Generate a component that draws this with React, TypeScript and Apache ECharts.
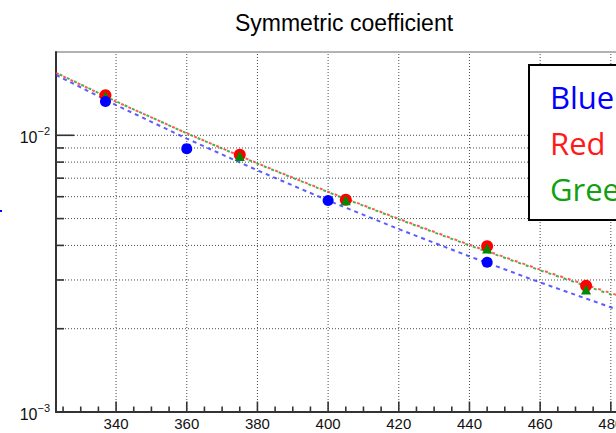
import React, { useEffect, useRef } from "react";
import * as echarts from "echarts";

const titleText = "Symmetric coefficient";

// measured points
const blueX = [337, 360, 400, 445];
const blueY = [0.01324, 0.00895, 0.00581, 0.00348];
const redX = [337, 375, 405, 445, 473];
const redY = [0.01396, 0.00851, 0.00585, 0.00397, 0.00286];
const greenX = [337, 375, 405, 445, 473];
const greenY = [0.0138, 0.00841, 0.00583, 0.0039, 0.00277];

// fit curves
const fitX = [323, 340, 360, 380, 400, 420, 440, 460, 480, 500];
const blueFit = [0.01652, 0.01286, 0.00973, 0.00747, 0.00581, 0.00458, 0.00365, 0.00294, 0.00239, 0.00196];
const redFit = [0.0168, 0.01324, 0.01017, 0.00792, 0.00625, 0.00499, 0.00402, 0.00327, 0.00269, 0.00223];
const greenFit = [0.01685, 0.01326, 0.01016, 0.0079, 0.00623, 0.00497, 0.004, 0.00325, 0.00266, 0.0022];

// axes
const xMin = 323;
const xMax = 500;
const yMin = 0.001;
const yMax = 0.02;
const xTickLabels = [340, 360, 380, 400, 420, 440, 460, 480, 500];
const yMajorValues = [0.001, 0.01];
const yMinorValues = [0.002, 0.003, 0.004, 0.005, 0.006, 0.007, 0.008, 0.009];
const xMinorValues: number[] = [];
for (let v = 325; v < xMax; v += 5) {
  if (!xTickLabels.includes(v)) xMinorValues.push(v);
}

const legendNames = ["Blue", "Red", "Green"];
const legendColors = ["#0000ff", "#ff1a1a", "#12a012"];

const helv = '"Liberation Sans", Arial, sans-serif';

const gridColor = "#4a4a4a";
const tickColor = "#333";

function vLines(values: number[]) {
  return {
    type: "custom",
    silent: true,
    clip: false,
    z: 1,
    data: values.map((v) => [v, yMin]),
    renderItem: (_p: any, api: any) => {
      const v = api.value(0);
      const a = api.coord([v, yMin]);
      const b = api.coord([v, yMax]);
      return {
        type: "line",
        shape: { x1: a[0], y1: a[1], x2: b[0], y2: b[1] },
        style: { stroke: gridColor, lineWidth: 1, lineDash: [1, 2] },
      };
    },
  };
}

function hLines(values: number[]) {
  return {
    type: "custom",
    silent: true,
    clip: false,
    z: 1,
    data: values.map((v) => [xMin, v]),
    renderItem: (_p: any, api: any) => {
      const v = api.value(1);
      const a = api.coord([xMin, v]);
      const b = api.coord([xMax, v]);
      return {
        type: "line",
        shape: { x1: a[0], y1: a[1], x2: b[0], y2: b[1] },
        style: { stroke: gridColor, lineWidth: 1, lineDash: [1, 2] },
      };
    },
  };
}

function xTicks(values: number[], len: number) {
  return {
    type: "custom",
    silent: true,
    clip: false,
    z: 3,
    data: values.map((v) => [v, yMin]),
    renderItem: (_p: any, api: any) => {
      const a = api.coord([api.value(0), yMin]);
      return {
        type: "line",
        shape: { x1: a[0], y1: a[1], x2: a[0], y2: a[1] - len },
        style: { stroke: tickColor, lineWidth: 1.6 },
      };
    },
  };
}

function yTicks(values: number[], len: number) {
  return {
    type: "custom",
    silent: true,
    clip: false,
    z: 3,
    data: values.map((v) => [xMin, v]),
    renderItem: (_p: any, api: any) => {
      const a = api.coord([xMin, api.value(1)]);
      return {
        type: "line",
        shape: { x1: a[0], y1: a[1], x2: a[0] + len, y2: a[1] },
        style: { stroke: tickColor, lineWidth: 1.6 },
      };
    },
  };
}

function fitSeries(ys: number[], color: string, dash: number[], offset: number) {
  return {
    type: "line",
    silent: true,
    showSymbol: false,
    symbol: "none",
    z: 4,
    data: fitX.map((x, i) => [x, ys[i]]),
    lineStyle: { color, width: 2, type: dash, dashOffset: offset },
  };
}

function pointSeries(xs: number[], ys: number[], color: string, symbol: string, size: number) {
  return {
    type: "scatter",
    silent: true,
    z: 5,
    symbol,
    symbolSize: size,
    data: xs.map((x, i) => [x, ys[i]]),
    itemStyle: { color, opacity: 1 },
  };
}

export default function App() {
  const ref = useRef<HTMLDivElement>(null);
  useEffect(() => {
    document.body.style.margin = "0";
    const chart = echarts.init(ref.current!, null, { renderer: "svg" });
    const option: any = {
      animation: false,
      backgroundColor: "#fff",
      grid: {
        left: 56,
        top: 52,
        right: 18.5,
        bottom: 21,
        show: true,
        borderColor: "#666",
        borderWidth: 1,
        backgroundColor: "transparent",
      },
      xAxis: {
        type: "value",
        min: xMin,
        max: xMax,
        splitNumber: 9,
        axisLine: { show: true, lineStyle: { color: "#333", width: 2 } },
        axisTick: { show: false },
        splitLine: { show: false },
        axisLabel: {
          customValues: xTickLabels,
          formatter: (v: number) => (xTickLabels.includes(v) ? String(v) : ""),
          fontSize: 15,
          fontFamily: helv,
          color: "#111",
          margin: 4,
        },
      },
      yAxis: {
        type: "log",
        logBase: 10,
        min: yMin,
        max: yMax,
        axisLine: { show: true, lineStyle: { color: "#333", width: 2 } },
        axisTick: { show: false },
        splitLine: { show: false },
        minorTick: { show: false },
        axisLabel: {
          margin: 6,
          fontSize: 15,
          fontFamily: helv,
          color: "#111",
          formatter: (v: number) => {
            const l = Math.log10(v);
            const e = Math.round(l);
            if (Math.abs(l - e) > 1e-6) return "";
            return `{b|10}{s|\u2212${-e}}`;
          },
          rich: {
            b: { fontSize: 16, fontFamily: helv, color: "#111", lineHeight: 20, padding: [4, 0, 0, 0] },
            s: { fontSize: 11, fontFamily: helv, color: "#111", lineHeight: 11, verticalAlign: "top" },
          },
        },
      },
      graphic: [
        {
          type: "text",
          x: 344,
          y: 23,
          style: {
            text: titleText,
            fontSize: 23,
            fontFamily: helv,
            fill: "#000",
            align: "center",
            verticalAlign: "middle",
          },
        },
        {
          type: "rect",
          z: 100,
          shape: { x: 529, y: 65, width: 200, height: 155 },
          style: { fill: "#fff", stroke: "#000", lineWidth: 2 },
        },
        ...legendNames.map((name, i) => ({
          type: "text",
          z: 101,
          x: 550,
          y: 97 + i * 46,
          style: {
            text: name,
            fontSize: 31,
            fontFamily: '"Open Sans", sans-serif',
            fill: legendColors[i],
            align: "left",
            verticalAlign: "middle",
          },
        })),
        {
          type: "rect",
          shape: { x: 0, y: 210, width: 2, height: 2 },
          style: { fill: "#0000ff" },
        },
      ],
      series: [
        vLines(xTickLabels),
        hLines([...yMinorValues, 0.01]),
        xTicks(xTickLabels, 10.5),
        xTicks(xMinorValues, 5.5),
        yTicks(yMajorValues, 18),
        yTicks(yMinorValues, 8),
        fitSeries(blueFit, "rgba(50,50,255,0.8)", [4, 4], 0),
        fitSeries(redFit, "rgba(255,60,60,0.85)", [3, 5], 0),
        fitSeries(greenFit, "rgba(40,165,40,0.85)", [3, 5], 4),
        pointSeries(redX, redY, "#ff0000", "circle", 12),
        pointSeries(greenX, greenY, "#008a00", "triangle", 10),
        pointSeries(blueX, blueY, "#0000ff", "circle", 11),
      ],
    };
    chart.setOption(option);
    return () => chart.dispose();
  }, []);
  return (
    <div
      style={{
        position: "fixed",
        left: 0,
        top: 0,
        width: 616,
        height: 433,
        overflow: "hidden",
        background: "#fff",
      }}
    >
      <div ref={ref} style={{ width: 700, height: 433 }} />
    </div>
  );
}
